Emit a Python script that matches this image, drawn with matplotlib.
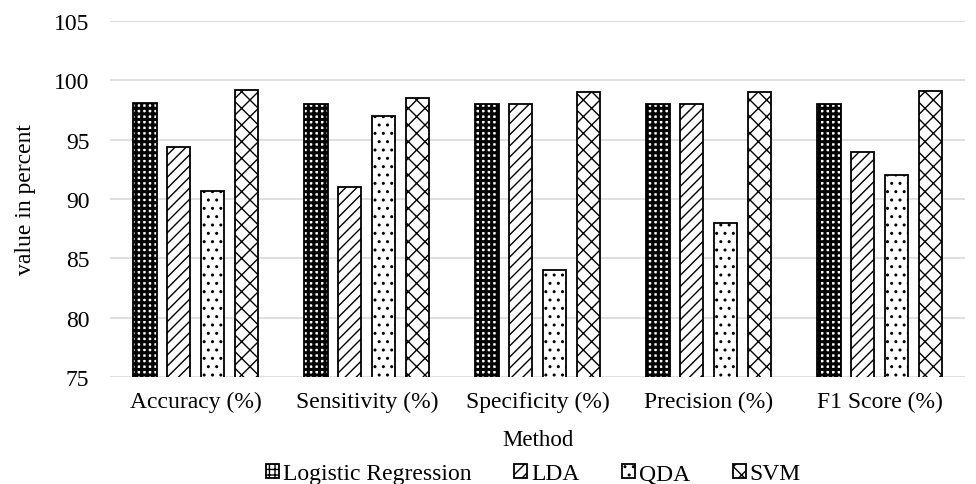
import numpy as np
import matplotlib.pyplot as plt

plt.rcParams['font.family'] = ['Liberation Serif', 'DejaVu Serif']
plt.rcParams['font.size'] = 17

# data
metrics = ['Accuracy (%)', 'Sensitivity (%)', 'Specificity (%)', 'Precision (%)', 'F1 Score (%)']
methods = ['Logistic Regression', 'LDA', 'QDA', 'SVM']
logreg = [98.1, 98.0, 98.0, 98.0, 98.0]
lda = [94.4, 91.0, 98.0, 98.0, 94.0]
qda = [90.7, 97.0, 84.0, 88.0, 92.0]
svm = [99.2, 98.5, 99.0, 99.0, 99.1]

series = [logreg, lda, qda, svm]
hatches = ['+++', '///', '..', 'xx']
hatch_lw = [2.2, 1.0, 1.0, 1.0]

fig = plt.figure(figsize=(9.76, 4.85), dpi=100)
ax = fig.add_axes([0.113, 0.2206, 0.876, 0.734])

x = np.arange(len(metrics))
width = 0.135
step = 0.198
for i, (vals, h) in enumerate(zip(series, hatches)):
    with plt.rc_context({'hatch.linewidth': hatch_lw[i]}):
        ax.bar(x + (i - 1.5) * step, vals, width, bottom=0, facecolor='white',
               edgecolor='black', linewidth=1.3, hatch=h, label=methods[i], zorder=3)

ax.set_ylim(75, 105)
ax.set_xlim(-0.5, 4.5)
ax.set_yticks(np.arange(75, 106, 5))
ax.set_xticks(x)
ax.set_xticklabels(metrics)
ax.yaxis.grid(True, color='#d9d9d9', linewidth=1.2, zorder=0)
ax.set_axisbelow(True)
for s in ax.spines.values():
    s.set_visible(False)
ax.tick_params(axis='y', length=0, pad=15)
ax.tick_params(axis='x', length=0, pad=10)
ax.set_ylabel('value in percent', labelpad=13)
ax.set_xlabel('Method', fontsize=16.5, labelpad=12)

ax.legend(loc='center', bbox_to_anchor=(0.495, -0.272), ncol=4, frameon=False,
          handlelength=0.55, handleheight=0.55, handletextpad=0.17, columnspacing=1.8,
          borderaxespad=0, borderpad=0)

fig.savefig('out.png', dpi=100)
